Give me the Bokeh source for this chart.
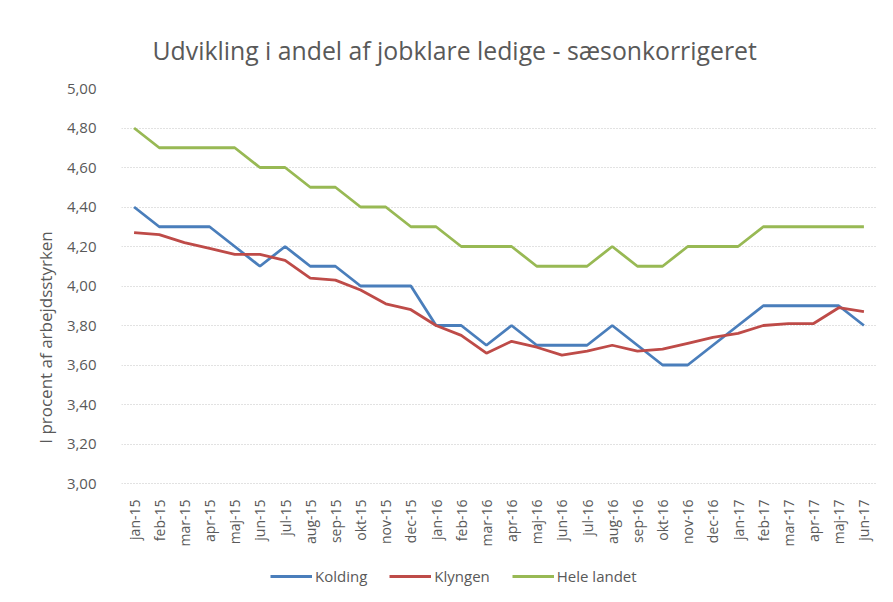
from bokeh.plotting import figure
from bokeh.models import (FactorRange, Range1d, FixedTicker, CustomJSTickFormatter,
                          Legend, LegendItem, Title)
from bokeh.embed import file_html
from bokeh.resources import INLINE
import math

months = ["jan-15", "feb-15", "mar-15", "apr-15", "maj-15", "jun-15", "jul-15", "aug-15",
          "sep-15", "okt-15", "nov-15", "dec-15", "jan-16", "feb-16", "mar-16", "apr-16",
          "maj-16", "jun-16", "jul-16", "aug-16", "sep-16", "okt-16", "nov-16", "dec-16",
          "jan-17", "feb-17", "mar-17", "apr-17", "maj-17", "jun-17"]

kolding = [4.4, 4.3, 4.3, 4.3, 4.2, 4.1, 4.2, 4.1, 4.1, 4.0, 4.0, 4.0, 3.8, 3.8, 3.7,
           3.8, 3.7, 3.7, 3.7, 3.8, 3.7, 3.6, 3.6, 3.7, 3.8, 3.9, 3.9, 3.9, 3.9, 3.8]

klyngen = [4.27, 4.26, 4.22, 4.19, 4.16, 4.16, 4.13, 4.04, 4.03, 3.98, 3.91, 3.88, 3.80,
           3.75, 3.66, 3.72, 3.69, 3.65, 3.67, 3.70, 3.67, 3.68, 3.71, 3.74, 3.76, 3.80,
           3.81, 3.81, 3.89, 3.87]

hele_landet = [4.8, 4.7, 4.7, 4.7, 4.7, 4.6, 4.6, 4.5, 4.5, 4.4, 4.4, 4.3, 4.3, 4.2, 4.2,
               4.2, 4.1, 4.1, 4.1, 4.2, 4.1, 4.1, 4.2, 4.2, 4.2, 4.3, 4.3, 4.3, 4.3, 4.3]

y_ticks = [3.0, 3.2, 3.4, 3.6, 3.8, 4.0, 4.2, 4.4, 4.6, 4.8, 5.0]
y_min, y_max = 3.0, 5.0

series_names = ["Kolding", "Klyngen", "Hele landet"]
colors = ["#4A7EBB", "#BE4B48", "#98B954"]

FONT = "Open Sans"
GREY = "#595959"

# the frame runs from 5,00 (top) down to the figure bottom; the value axis
# spans 395px for 3,00..5,00, so the frame bottom extends the range below 3,00
frame_top, frame_bottom, axis_px = 88, 586, 395
y_start = y_min - (y_max - y_min) * (frame_bottom - frame_top - axis_px) / axis_px

p = figure(width=877, height=586, output_backend="svg", toolbar_location=None,
           x_range=FactorRange(*months), y_range=Range1d(y_start, y_max),
           min_border_left=121, min_border_right=1, min_border_top=frame_top, min_border_bottom=0)
p.title = None
p.add_layout(Title(text="Udvikling i andel af jobklare ledige - sæsonkorrigeret",
                   align="left", offset=31, text_font=FONT, text_font_size="24.8px",
                   text_font_style="normal", text_color=GREY, standoff=43), "above")

p.outline_line_color = None
p.background_fill_color = "white"
p.border_fill_color = "white"

renderers = []
for vals, col in zip([kolding, klyngen, hele_landet], colors):
    r = p.line(months, vals, line_color=col, line_width=2.8)
    renderers.append(r)

# y axis
p.yaxis.ticker = FixedTicker(ticks=y_ticks)
p.yaxis.formatter = CustomJSTickFormatter(code="return tick.toFixed(2).replace('.', ',');")
p.yaxis.axis_line_color = None
p.yaxis.major_tick_line_color = None
p.yaxis.minor_tick_line_color = None
p.yaxis.major_label_standoff = 19
p.yaxis.major_label_text_font = FONT
p.yaxis.major_label_text_font_size = "15px"
p.yaxis.major_label_text_color = GREY
p.yaxis.axis_label = "I procent af arbejdsstyrken"
p.yaxis.axis_label_text_font = FONT
p.yaxis.axis_label_text_font_size = "17px"
p.yaxis.axis_label_text_font_style = "normal"
p.yaxis.axis_label_text_color = GREY
p.yaxis.axis_label_standoff = 7

# x axis, sitting on the 3,00 line
p.xaxis.fixed_location = y_min
p.xaxis.axis_line_color = None
p.xaxis.major_tick_line_color = None
p.xaxis.minor_tick_line_color = None
p.xaxis.major_label_orientation = math.pi / 2
p.xaxis.major_label_standoff = 10
p.xaxis.major_label_text_font = FONT
p.xaxis.major_label_text_font_size = "14px"
p.xaxis.major_label_text_color = GREY

# grid
p.xgrid.grid_line_color = None
p.ygrid.grid_line_color = "#c4c4c4"
p.ygrid.grid_line_dash = "1 2"
p.ygrid.grid_line_width = 1

legend = Legend(items=[LegendItem(label=n, renderers=[r]) for n, r in zip(series_names, renderers)],
                orientation="horizontal", location=(149, 0),
                label_text_font=FONT, label_text_font_size="15px", label_text_color=GREY,
                glyph_width=42, glyph_height=14, label_height=14, spacing=22, label_standoff=3,
                border_line_color=None, background_fill_alpha=0, padding=0, margin=0)
p.add_layout(legend, "center")

open("out.html", "w").write(file_html(p, INLINE))
